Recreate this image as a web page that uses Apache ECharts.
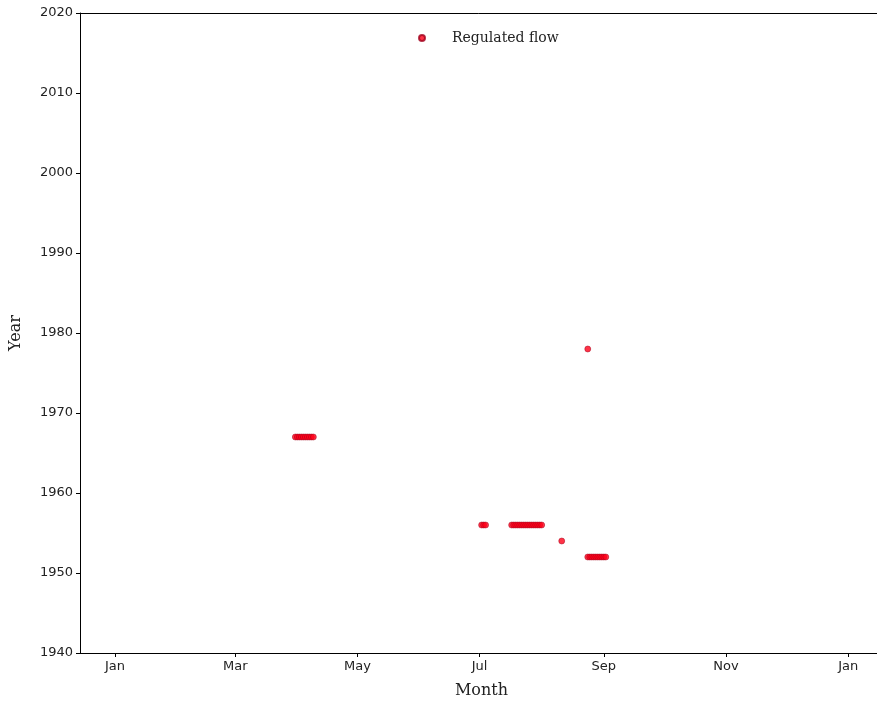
<!DOCTYPE html>
<html>
<head>
<meta charset="utf-8">
<script src="https://cdn.jsdelivr.net/npm/echarts@6/dist/echarts.min.js"></script>
<style>html,body{margin:0;padding:0;background:#fff}#c{width:877px;height:702px}</style>
</head>
<body>
<div id="c"></div>
<script>
// Day-of-year (leap-year calendar, Jan 1 = 0) of regulated-flow days, per year
const days1952 = [236, 237, 238, 239, 240, 241, 242, 243, 244, 245];
const days1954 = [223];
const days1956 = [183, 184, 185, 198, 199, 200, 201, 202, 203, 204, 205, 206, 207, 208, 209, 210, 211, 212, 213];
const days1967 = [90, 91, 92, 93, 94, 95, 96, 97, 98, 99];
const days1978 = [236];
const monthTickDays = [0, 60, 121, 182, 244, 305, 366];
const monthTickLabels = ['Jan', 'Mar', 'May', 'Jul', 'Sep', 'Nov', 'Jan'];
const yearTicks = [1940, 1950, 1960, 1970, 1980, 1990, 2000, 2010, 2020];

const groups = [[1952, days1952], [1954, days1954], [1956, days1956], [1967, days1967], [1978, days1978]];
const points = [];
groups.forEach(([y, ds]) => ds.forEach(d => points.push([d, y])));

const chart = echarts.init(document.getElementById('c'));
chart.setOption({
  animation: false,
  backgroundColor: '#fff',
  grid: {left: 80, top: 13, right: -6, bottom: 49, outerBoundsMode: 'none', containLabel: false, show: false},
  legend: {
    data: ['Regulated flow'], left: 413, top: 26, icon: 'circle', itemWidth: 6, itemHeight: 6,
    textStyle: {fontFamily: 'DejaVu Serif', fontSize: 14, color: '#222', padding: [0, 0, 0, 22]}
  },
  xAxis: [{
    type: 'value', min: -17.5, max: 383.4,
    name: 'Month', nameLocation: 'middle', nameGap: 30,
    nameTextStyle: {fontFamily: 'DejaVu Serif', fontSize: 16, color: '#222'},
    axisLine: {show: true, onZero: false, lineStyle: {color: '#000'}},
    axisTick: {show: true, length: 4, lineStyle: {color: '#000'}, customValues: monthTickDays},
    axisLabel: {color: '#222', fontFamily: 'DejaVu Sans', fontSize: 13, margin: 7,
      customValues: monthTickDays,
      formatter: v => monthTickLabels[monthTickDays.indexOf(v)]},
    splitLine: {show: false}
  }, {
    type: 'value', position: 'top', min: -17.5, max: 383.4,
    axisLine: {show: true, onZero: false, lineStyle: {color: '#000'}},
    axisTick: {show: false}, axisLabel: {show: false}, splitLine: {show: false}
  }],
  yAxis: {
    type: 'value', min: yearTicks[0], max: yearTicks[yearTicks.length - 1], interval: 10,
    name: 'Year', nameLocation: 'middle', nameGap: 56, nameRotate: 90,
    nameTextStyle: {fontFamily: 'DejaVu Serif', fontSize: 16, color: '#222'},
    axisLine: {show: true, onZero: false, lineStyle: {color: '#000'}},
    axisTick: {show: true, length: 4, lineStyle: {color: '#000'}},
    axisLabel: {color: '#222', fontFamily: 'DejaVu Sans', fontSize: 13, margin: 7,
      formatter: v => String(v)},
    splitLine: {show: false}
  },
  series: [{
    name: 'Regulated flow', type: 'scatter', data: points,
    symbol: 'circle', symbolSize: 6,
    itemStyle: {color: '#ff0018', borderColor: '#a0001c', borderWidth: 0.6}
  }]
});
</script>
</body>
</html>
